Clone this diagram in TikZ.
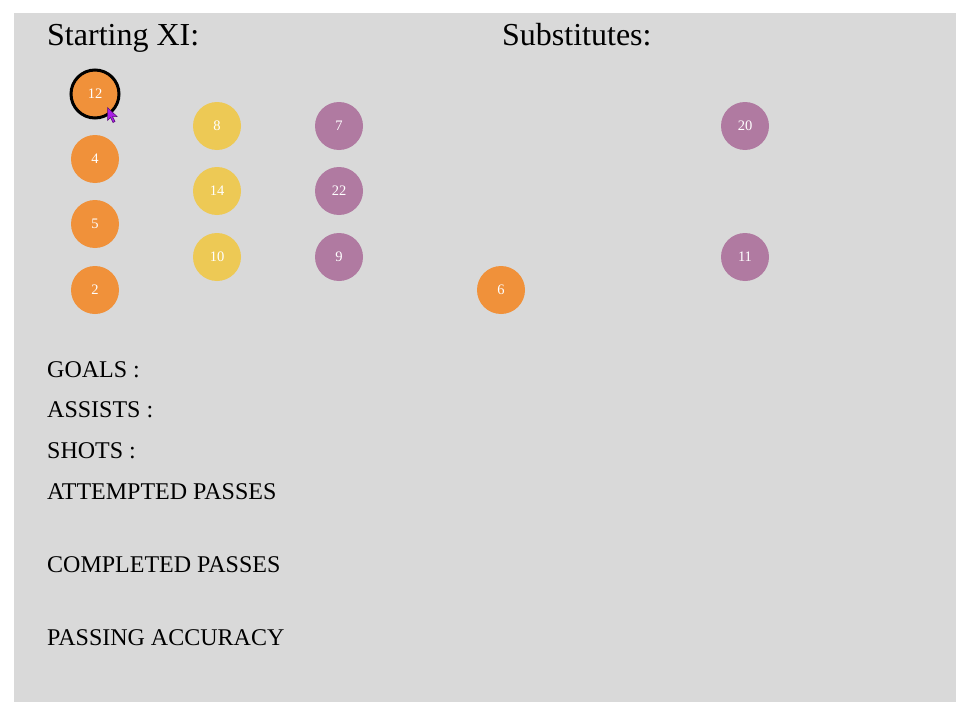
\documentclass[tikz,border=0pt]{standalone}
\usepackage{fontspec}
\setmainfont{Liberation Serif}
\usepackage{tikz}
\usetikzlibrary{positioning}
\definecolor{pnlGray}{RGB}{217,217,217}
\definecolor{plOrange}{RGB}{240,145,58}
\definecolor{plYellow}{RGB}{237,201,85}
\definecolor{plPurple}{RGB}{176,122,161}
\definecolor{cursorPurple}{RGB}{170,30,230}

\begin{document}
\begin{tikzpicture}[x=1pt,y=-1pt,
  title/.style={font=\fontsize{32}{36}\selectfont,anchor=base west,inner sep=0pt},
  stat/.style={font=\fontsize{24}{27}\selectfont,anchor=base west,inner sep=0pt},
  player/.style={circle,minimum size=48pt,inner sep=0pt,text=white,
                 font=\fontsize{14.5}{14.5}\selectfont},
  gk/.style={player,fill=plOrange},
  mid/.style={player,fill=plYellow},
  fwd/.style={player,fill=plPurple},
  picked/.style={draw=black,line width=3pt}]

\useasboundingbox (0,0) rectangle (967,709);
\fill[pnlGray] (14,13) rectangle (956,702);

% ===== Headings =====
\node[title] (start) at (47,46) {Starting XI:};
\node[title] (subs) at (502,46) {Substitutes:};

% ===== Starting XI =====
\node[gk,picked] (p12) at (95,94) {12};
\node[gk] (p4) at (95,159) {4};
\node[gk] (p5) at (95,224) {5};
\node[gk] (p2) at (95,290) {2};
\node[mid] (p8) at (217,126) {8};
\node[mid] (p14) at (217,191) {14};
\node[mid] (p10) at (217,257) {10};
\node[fwd] (p7) at (339,126) {7};
\node[fwd] (p22) at (339,191) {22};
\node[fwd] (p9) at (339,257) {9};

% ===== Substitutes =====
\node[gk] (p6) at (501,290) {6};
\node[fwd] (p20) at (745,126) {20};
\node[fwd] (p11) at (745,257) {11};

% mouse pointer over the picked player
\filldraw[fill=cursorPurple,draw=cursorPurple!50!black,line width=0.5pt,shift={(107.5,107.5)}]
  (0,0) -- (0,13) -- (3,10) -- (5.5,15) -- (7.5,14) -- (5,9) -- (9.5,9) -- cycle;

% ===== Stats =====
\node[stat] (goals) at (47,377) {GOALS :};
\node[stat] (assists) at (47,417) {ASSISTS :};
\node[stat] (shots) at (47,458) {SHOTS :};
\node[stat] (att) at (47,499) {ATTEMPTED PASSES};
\node[stat] (comp) at (47,572) {COMPLETED PASSES};
\node[stat] (acc) at (47,645) {PASSING ACCURACY};
\end{tikzpicture}
\end{document}
